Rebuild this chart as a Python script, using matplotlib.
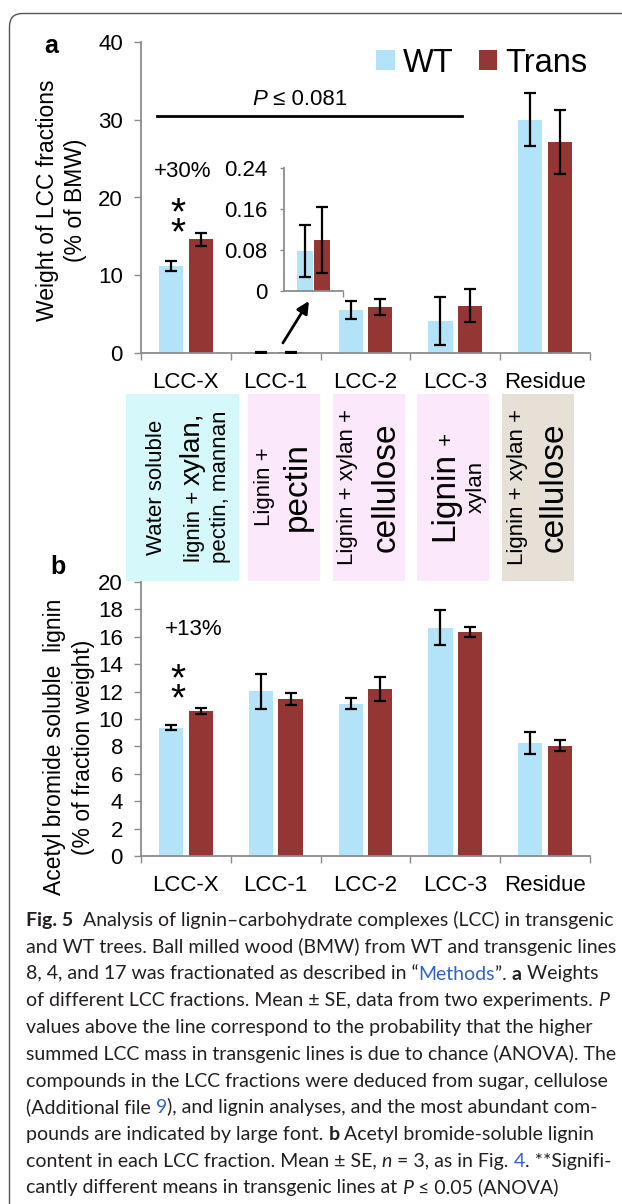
import matplotlib
matplotlib.use("Agg")
import matplotlib.pyplot as plt
import numpy as np
from matplotlib.font_manager import FontProperties
from matplotlib.patches import Rectangle, FancyBboxPatch

# data
fractions = ["LCC-X", "LCC-1", "LCC-2", "LCC-3", "Residue"]

# panel a: weight of LCC fractions (% of BMW)
weight_wt = [11.2, 0.078, 5.5, 4.1, 30.0]
weight_wt_se = [0.6, 0.05, 1.15, 3.05, 3.4]
weight_trans = [14.6, 0.10, 5.9, 6.1, 27.1]
weight_trans_se = [0.8, 0.064, 1.05, 2.15, 4.1]

# panel b: acetyl bromide soluble lignin (% of fraction weight)
lignin_wt = [9.37, 12.02, 11.12, 16.67, 8.25]
lignin_wt_se = [0.2, 1.27, 0.4, 1.26, 0.82]
lignin_trans = [10.58, 11.48, 12.21, 16.37, 8.05]
lignin_trans_se = [0.22, 0.43, 0.89, 0.36, 0.39]

inset_ticks = [0, 0.08, 0.16, 0.24]
inset_ticklabels = ["0", "0.08", "0.16", "0.24"]

# boxes describing the compounds in each fraction: (baseline x, [(text, size)])
box_lines = [
    [(162, [("Water soluble", 16)]),
     (200, [("lignin + ", 16), ("xylan,", 20)]),
     (226, [("pectin, mannan", 16)])],
    [(270, [("Lignin +", 16)]),
     (306, [("pectin", 24)])],
    [(353, [("Lignin + xylan +", 16)]),
     (395, [("cellulose", 24)])],
    [(453, [("Lignin", 24), (" +", 16)]),
     (482, [("xylan", 16)])],
    [(523, [("Lignin + xylan +", 16)]),
     (563, [("cellulose", 24)])],
]
box_edges = [(126, 239), (248, 320), (333, 405), (417, 489), (502, 574)]
box_colors = ["#d5f8fb", "#fbe8fb", "#fbe8fb", "#fbe8fb", "#e7e0d7"]

caption = [
    [("Fig. 5", "b"), ("  Analysis of lignin\u2013carbohydrate complexes (LCC) in transgenic", "n")],
    [("and WT trees. Ball milled wood (BMW) from WT and transgenic lines", "n")],
    [("8, 4, and 17 was fractionated as described in \u201c", "n"), ("Methods", "link"),
     ("\u201d. ", "n"), ("a", "b"), (" Weights", "n")],
    [("of different LCC fractions. Mean \u00b1 SE, data from two experiments. ", "n"), ("P", "i")],
    [("values above the line correspond to the probability that the higher", "n")],
    [("summed LCC mass in transgenic lines is due to chance (ANOVA). The", "n")],
    [("compounds in the LCC fractions were deduced from sugar, cellulose", "n")],
    [("(Additional file ", "n"), ("9", "link"), ("), and lignin analyses, and the most abundant com-", "n")],
    [("pounds are indicated by large font. ", "n"), ("b", "b"), (" Acetyl bromide-soluble lignin", "n")],
    [("content in each LCC fraction. Mean \u00b1 SE, ", "n"), ("n", "i"), (" = 3, as in Fig. ", "n"),
     ("4", "link"), (". **Signifi-", "n")],
    [("cantly different means in transgenic lines at ", "n"), ("P", "i"), (" \u2264 0.05 (ANOVA)", "n")],
]

# styling
W, H = 622, 1204
CHART_FONT = ["Liberation Sans", "DejaVu Sans"]
CAPTION_FONT = ["Lato", "DejaVu Sans"]
WT_COLOR = "#b3e3f9"
TRANS_COLOR = "#943634"
SPINE_COLOR = "#8c8c8c"
LINK_COLOR = "#2f62c9"
BAR_W = 0.27
OFF = 0.165
STAR_SIZE = 28

plt.rcParams["font.family"] = CHART_FONT

fig = plt.figure(figsize=(W / 100, H / 100), dpi=100)
renderer = fig.canvas.get_renderer()


def rect(l, t, r, b):
    return [l / W, 1 - b / H, (r - l) / W, (b - t) / H]


def fprops(size, family=CHART_FONT, weight="normal", style="normal"):
    return FontProperties(family=family, size=size, weight=weight, style=style)


def run_width(s, fp):
    w1, _, _ = renderer.get_text_width_height_descent("x" + s + "x", fp, ismath=False)
    w0, _, _ = renderer.get_text_width_height_descent("xx", fp, ismath=False)
    return w1 - w0


def draw_runs(ax, x, y, runs, vertical=False):
    # runs: list of (text, FontProperties, color)
    for s, fp, c in runs:
        if vertical:
            ax.text(x, y, s, fontproperties=fp, color=c, rotation=90,
                    rotation_mode="anchor", ha="left", va="baseline")
            y -= run_width(s, fp)
        else:
            ax.text(x, y, s, fontproperties=fp, color=c, ha="left", va="baseline")
            x += run_width(s, fp)


def stars(ax, xs, ymid):
    # two stacked asterisks, ~20 px apart, centred on ymid
    ax.annotate("*\n*", xy=(xs, ymid), xytext=(0, -0.31 * STAR_SIZE),
                textcoords="offset points", fontsize=STAR_SIZE, linespacing=0.415,
                ha="center", va="center")


# full-figure overlay in image pixel coordinates
ov = fig.add_axes([0, 0, 1, 1])
ov.set_xlim(0, W)
ov.set_ylim(H, 0)
ov.axis("off")

ov.add_patch(FancyBboxPatch((9.5, 13.5), 700, 1250, boxstyle="round,pad=0,rounding_size=13",
                            fill=False, ec="#555555", lw=1.0))

ov.text(51, 46, "a", fontsize=18, weight="bold", ha="center", va="center")
ov.text(58, 567, "b", fontsize=18, weight="bold", ha="center", va="center")
ov.text(61.5, 200, "Weight of LCC fractions\n(% of BMW)", rotation=90, ha="center",
        va="center", fontsize=16.5, linespacing=1.3, multialignment="center")
ov.text(69, 747, "Acetyl bromide soluble  lignin\n(% of fraction weight)", rotation=90,
        ha="center", va="center", fontsize=16.5, linespacing=1.3, multialignment="center")

# P value text
p_runs = [("P", fprops(16, style="italic"), "black"), (" \u2264 0.081", fprops(16), "black")]
p_w = sum(run_width(s, f) for s, f, _ in p_runs)
draw_runs(ov, 300 - p_w / 2, 105, p_runs)

# compound boxes
for (l, r), col, lines in zip(box_edges, box_colors, box_lines):
    ov.add_patch(Rectangle((l, 394), r - l, 187, color=col, lw=0))
    for bx, parts in lines:
        runs = [(s, fprops(sz), "black") for s, sz in parts]
        tot = sum(run_width(s, f) for s, f, _ in runs)
        draw_runs(ov, bx, 487 + tot / 2, runs, vertical=True)

# caption
cap_style = {
    "n": dict(), "b": dict(weight="bold"), "i": dict(style="italic"), "link": dict(),
}
w10 = sum(run_width(s, fprops(10, CAPTION_FONT, **cap_style[k])) for s, k in caption[0])
cap_size = 10 * 587 / w10
for i, line in enumerate(caption):
    runs = [(s, fprops(cap_size, CAPTION_FONT, **cap_style[k]),
             LINK_COLOR if k == "link" else "#231f20") for s, k in line]
    draw_runs(ov, 26, 926 + i * 26.75, runs)


def style_axes(ax, ymax, yticks):
    ax.set_facecolor("none")
    for side in ("top", "right"):
        ax.spines[side].set_visible(False)
    for side in ("left", "bottom"):
        ax.spines[side].set_color(SPINE_COLOR)
        ax.spines[side].set_linewidth(1.3)
    ax.set_xlim(-0.5, len(fractions) - 0.5)
    ax.set_ylim(0, ymax)
    ax.set_yticks(yticks)
    ax.tick_params(axis="y", direction="out", length=5, width=1, color=SPINE_COLOR,
                   labelsize=16, pad=8)
    ax.set_xticks(np.arange(len(fractions)))
    ax.set_xticklabels(fractions)
    ax.tick_params(axis="x", which="major", length=0, labelsize=16, pad=13.5)
    ax.set_xticks(np.arange(len(fractions) + 1) - 0.5, minor=True)
    ax.tick_params(axis="x", which="minor", direction="out", length=5, width=1,
                   color=SPINE_COLOR)


def draw_bars(ax, x, wt, wt_se, tr, tr_se):
    b1 = ax.bar(x - OFF, wt, BAR_W, color=WT_COLOR, zorder=2)
    b2 = ax.bar(x + OFF, tr, BAR_W, color=TRANS_COLOR, zorder=2)
    ax.errorbar(x - OFF, wt, yerr=wt_se, fmt="none", ecolor="black", elinewidth=1.6,
                capsize=4.3, capthick=1.6, zorder=3)
    ax.errorbar(x + OFF, tr, yerr=tr_se, fmt="none", ecolor="black", elinewidth=1.6,
                capsize=4.3, capthick=1.6, zorder=3)
    return b1, b2


x = np.arange(len(fractions))

# ---- panel a
ax_a = fig.add_axes(rect(141, 42, 590, 353))
style_axes(ax_a, 40, [0, 10, 20, 30, 40])
bwt, btr = draw_bars(ax_a, x, weight_wt, weight_wt_se, weight_trans, weight_trans_se)
ax_a.legend([bwt, btr], ["WT", "Trans"], loc="center", bbox_to_anchor=(482 / W, 1 - 63 / H),
            bbox_transform=fig.transFigure, ncol=2, frameon=False, fontsize=23.5,
            handlelength=0.58, handleheight=0.58, handletextpad=0.25, columnspacing=0.75,
            borderpad=0, borderaxespad=0)
ax_a.plot([-0.32, 3.08], [30.5, 30.5], color="black", lw=2)
ax_a.text(-0.04, 23.3, "+30%", fontsize=16, ha="center", va="center")
stars(ax_a, -0.09, 18.1)
ax_a.annotate("", xy=(1.37, 6.68), xytext=(1.08, 1.29), annotation_clip=False,
              arrowprops=dict(arrowstyle="-|>", lw=2, color="black", mutation_scale=18,
                              shrinkA=0, shrinkB=0))

# inset zooming on LCC-1
ax_in = fig.add_axes(rect(284, 168, 343, 291))
ax_in.set_facecolor("white")
for side in ("top", "right"):
    ax_in.spines[side].set_visible(False)
for side in ("left", "bottom"):
    ax_in.spines[side].set_color(SPINE_COLOR)
    ax_in.spines[side].set_linewidth(1.3)
ax_in.set_xlim(-0.5, 0.5)
ax_in.set_ylim(0, 0.24)
ax_in.bar(-0.145, weight_wt[1], BAR_W, color=WT_COLOR, zorder=2)
ax_in.bar(0.145, weight_trans[1], BAR_W, color=TRANS_COLOR, zorder=2)
ax_in.errorbar([-0.145], [weight_wt[1]], yerr=[weight_wt_se[1]], fmt="none", ecolor="black",
               elinewidth=1.6, capsize=4.3, capthick=1.6, zorder=3)
ax_in.errorbar([0.145], [weight_trans[1]], yerr=[weight_trans_se[1]], fmt="none",
               ecolor="black", elinewidth=1.6, capsize=4.3, capthick=1.6, zorder=3)
ax_in.set_yticks(inset_ticks)
ax_in.set_yticklabels(inset_ticklabels)
ax_in.tick_params(axis="y", direction="out", length=3, width=1, color=SPINE_COLOR,
                  labelsize=16, pad=9)
ax_in.set_xticks([0.5])
ax_in.set_xticklabels([])
ax_in.tick_params(axis="x", direction="out", length=4.5, width=1, color=SPINE_COLOR)

# ---- panel b
ax_b = fig.add_axes(rect(141, 582, 590, 856))
style_axes(ax_b, 20, np.arange(0, 21, 2))
draw_bars(ax_b, x, lignin_wt, lignin_wt_se, lignin_trans, lignin_trans_se)
ax_b.text(0.09, 16.5, "+13%", fontsize=16, ha="center", va="center")
stars(ax_b, -0.09, 12.975)

fig.savefig("out.png", dpi=100)
